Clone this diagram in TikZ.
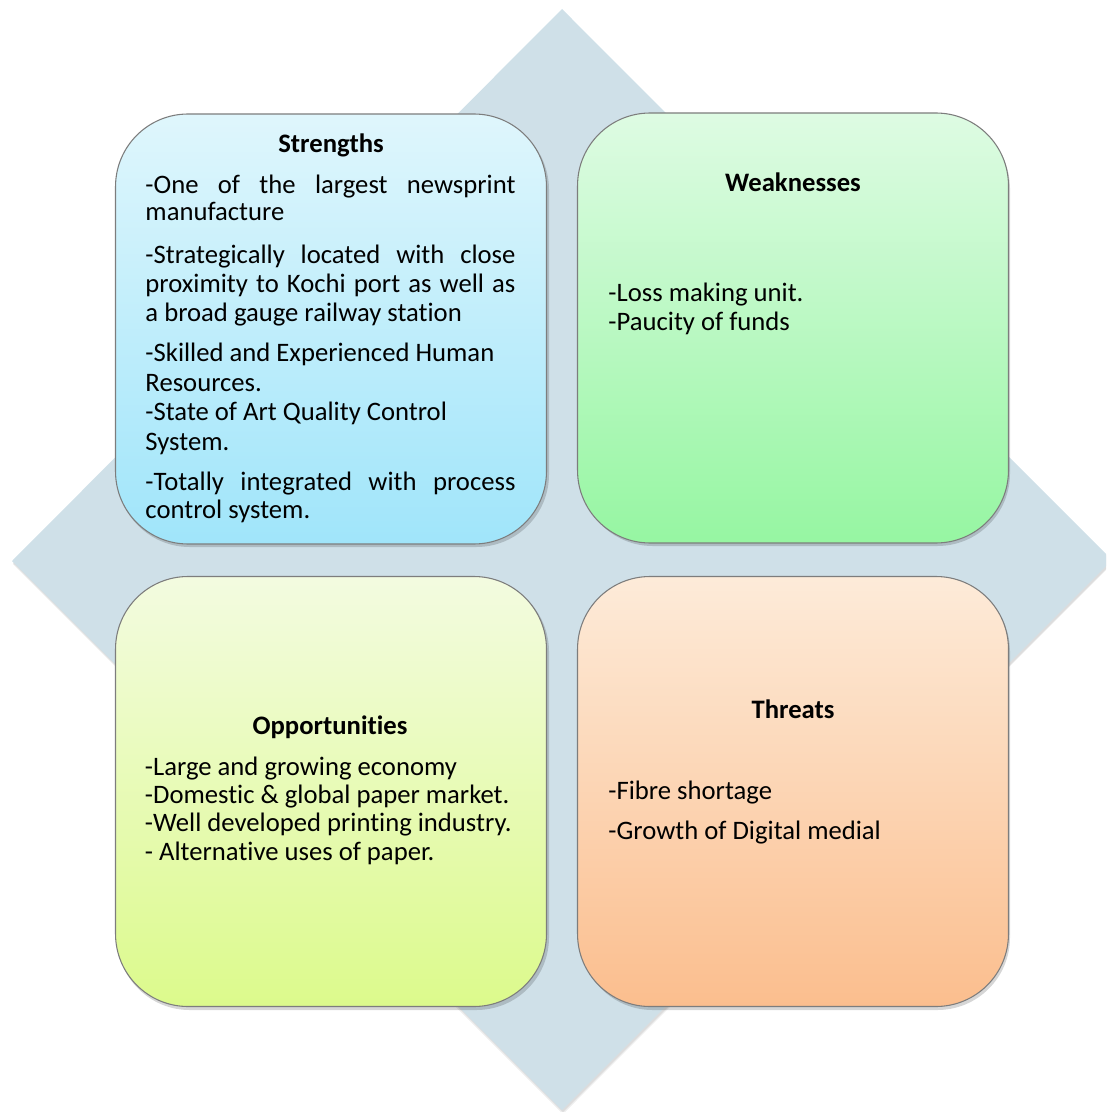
\documentclass[tikz,border=0pt]{standalone}
\usepackage{fontspec}
\setmainfont{Carlito}[Ligatures=NoCommon]
\definecolor{dia}{RGB}{207,224,232}
\definecolor{boxline}{RGB}{125,125,125}
\definecolor{sTop}{RGB}{223,246,252}
\definecolor{sBot}{RGB}{160,229,250}
\definecolor{wTop}{RGB}{222,251,227}
\definecolor{wBot}{RGB}{150,246,162}
\definecolor{oTop}{RGB}{243,251,224}
\definecolor{oBot}{RGB}{220,250,140}
\definecolor{tTop}{RGB}{253,235,217}
\definecolor{tBot}{RGB}{251,190,142}
\begin{document}
\begin{tikzpicture}[x=0.42pt,y=-0.42pt,
  box/.style={draw=boxline, line width=0.45pt, rounded corners=30.5pt,
    minimum width=181pt, minimum height=180.6pt, inner sep=0pt},
  sh/.style={fill=black, opacity=0.16, rounded corners=30.5pt},
  ttl/.style={font=\bfseries\fontsize{11.2}{13}\selectfont, anchor=base, inner sep=0pt},
  txt/.style={font=\fontsize{11.2}{13}\selectfont, anchor=base west, inner sep=0pt}]
\useasboundingbox (0,0) rectangle (1106,1112);
\begin{scope}
  \clip (0,0) rectangle (1106,1112);
  \fill[black, opacity=0.07] (563,12) -- (1113,563) -- (563,1114) -- (13,564) -- cycle;
  \fill[black, opacity=0.07] (563,11) -- (1113,562) -- (563,1112) -- (13,563) -- cycle;
  \fill[dia] (562,9) -- (1112,560) -- (562,1110) -- (12,561) -- cycle;
\end{scope}
% shadows of boxes
\fill[sh] (117,117) rectangle (549,547);
\fill[sh] (580,116) rectangle (1010,546);
\fill[sh] (117,579) rectangle (549,1010);
\fill[sh] (580,579) rectangle (1010,1010);
% boxes
\node[box, top color=sTop, bottom color=sBot] (S) at (331,329) {};
\node[box, top color=wTop, bottom color=wBot] (W) at (793,328) {};
\node[box, top color=oTop, bottom color=oBot] (O) at (331,791.5) {};
\node[box, top color=tTop, bottom color=tBot] (T) at (793,791.5) {};
% Strengths
\node[ttl] (st) at (331,152.3) {Strengths};
\node[txt] (s1) at (145,193.3) {\makebox[155.4pt][s]{-One of the largest newsprint}};
\node[txt] (s2) at (145,221) {manufacture};
\node[txt] (s3) at (145,263.3) {\makebox[155.4pt][s]{-Strategically located with close}};
\node[txt] (s4) at (145,292.3) {\makebox[155.4pt][s]{proximity to Kochi port as well as}};
\node[txt] (s5) at (145,321.7) {a broad gauge railway station};
\node[txt] (s6) at (145,361.7) {-Skilled and Experienced Human};
\node[txt] (s7) at (145,391) {Resources.};
\node[txt] (s8) at (145,420.7) {-State of Art Quality Control};
\node[txt] (s9) at (145,450) {System.};
\node[txt] (s10) at (145,490) {\makebox[155.4pt][s]{-Totally integrated with process}};
\node[txt] (s11) at (145,518.3) {control system.};
% Weaknesses
\node[ttl] (wt) at (793,191.3) {Weaknesses};
\node[txt] (w1) at (608,302) {-Loss making unit.};
\node[txt] (w2) at (608,331) {-Paucity of funds};
% Opportunities
\node[ttl] (ot) at (330,734.3) {Opportunities};
\node[txt] (o1) at (144.5,775) {-Large and growing economy};
\node[txt] (o2) at (144.5,803.3) {-Domestic \& global paper market.};
\node[txt] (o3) at (144.5,831.7) {-Well developed printing industry.};
\node[txt] (o4) at (144.5,860.7) {- Alternative uses of paper.};
% Threats
\node[ttl] (tt) at (793,718) {Threats};
\node[txt] (t1) at (608,799) {-Fibre shortage};
\node[txt] (t2) at (608,839.5) {-Growth of Digital medial};
\end{tikzpicture}
\end{document}
